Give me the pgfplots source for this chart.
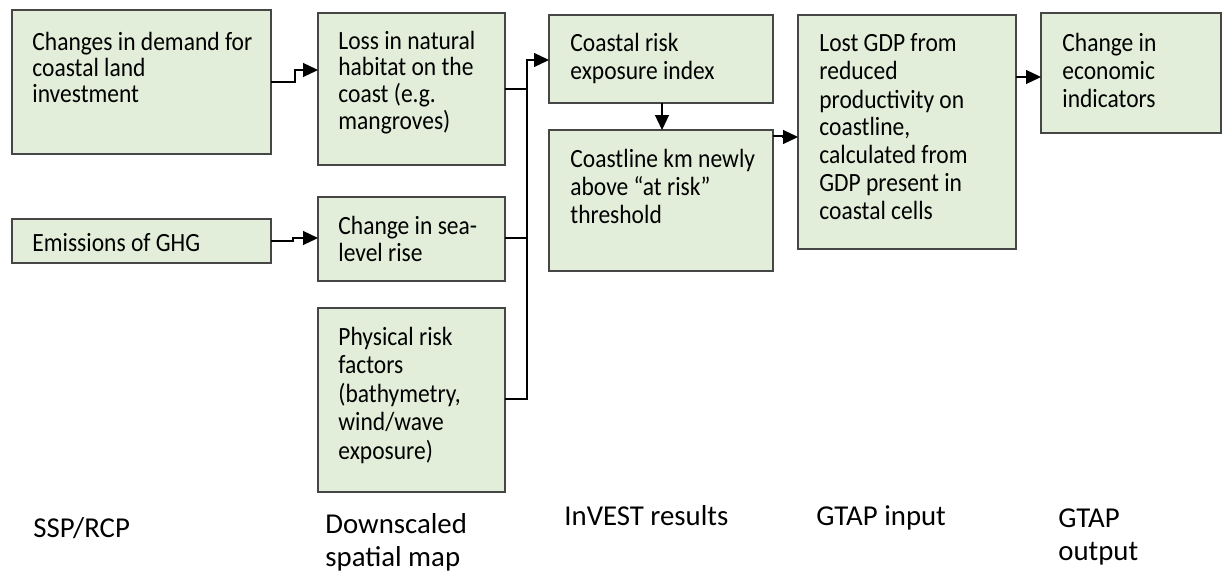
\documentclass[border=0pt]{standalone}
\usepackage{pgfplots}
\pgfplotsset{compat=1.18}
\usepackage{graphicx}
\usepackage{fontspec}
\setmainfont{Carlito}
\usetikzlibrary{arrows.meta}
\definecolor{boxfill}{RGB}{226,238,217}
\definecolor{boxline}{RGB}{70,70,70}
\newcommand{\bt}[2]{\scalebox{1}[1.12]{\fontsize{11.75}{#1}\selectfont\begin{tabular}{@{}l@{}}#2\end{tabular}}}
\begin{document}
\begin{tikzpicture}
\begin{axis}[
  scale only axis, width=611.5pt, height=286.5pt,
  xmin=0, xmax=1223, ymin=0, ymax=573, y dir=reverse,
  hide axis, clip=false,
]
\path (0,0) rectangle (1223,573);
\tikzset{
  bx/.style={fill=boxfill, draw=boxline, line width=0.75pt},
  tx/.style={anchor=north west, inner sep=0pt, align=left},
  lb/.style={anchor=north west, inner sep=0pt, align=left, font=\fontsize{14.4}{16.5}\selectfont},
  ar/.style={draw=black, line width=0.65pt, -{Triangle[length=7.5pt,width=7pt]}},
  ln/.style={draw=black, line width=0.65pt},
}
% boxes
\draw[bx] (12,10) rectangle (271,154);
\draw[bx] (318,13) rectangle (505,165);
\draw[bx] (12,219) rectangle (271,263);
\draw[bx] (318,197) rectangle (505,281);
\draw[bx] (318,308) rectangle (505,492);
\draw[bx] (549,15) rectangle (773,103);
\draw[bx] (549,130) rectangle (773,271);
\draw[bx] (798,15) rectangle (1016,249);
\draw[bx] (1041,13) rectangle (1221,133);
% connectors
\draw[ar] (271,82) -- (295,82) -- (295,70) -- (318,70);
\draw[ar] (271,241) -- (293,241) -- (293,238) -- (318,238);
\draw[ln] (505,89) -- (527,89);
\draw[ln] (505,238) -- (527,238);
\draw[ar] (505,399) -- (527,399) -- (527,60) -- (549,60);
\draw[ar] (662,103) -- (662,130);
\draw[ar] (773,136) -- (783,136) -- (783,137) -- (798,137);
\draw[ar] (1016,77) -- (1041,77);
% box texts
\node[tx] at (32,32) {\bt{11.6pt}{Changes in demand for\\coastal land\\investment}};
\node[tx] at (338,31) {\bt{11.6pt}{Loss in natural\\habitat on the\\coast (e.g.\\mangroves)}};
\node[tx] at (32,231) {\bt{12.5pt}{Emissions of GHG}};
\node[tx] at (338,214) {\bt{12.5pt}{Change in sea-\\level rise}};
\node[tx] at (338,325) {\bt{12.7pt}{Physical risk\\factors\\(bathymetry,\\wind/wave\\exposure)}};
\node[tx] at (570,32) {\bt{12.5pt}{Coastal risk\\exposure index}};
\node[tx] at (570,147) {\bt{12.5pt}{Coastline km newly\\above “at risk”\\threshold}};
\node[tx] at (819,32) {\bt{12.5pt}{Lost GDP from\\reduced\\productivity on\\coastline,\\calculated from\\GDP present in\\coastal cells}};
\node[tx] at (1062,31) {\bt{12.5pt}{Change in\\economic\\indicators}};
% column labels
\node[lb] at (33,517) {SSP/RCP};
\node[lb] at (325,513) {Downscaled\\spatial map};
\node[lb] at (564,505) {InVEST results};
\node[lb] at (816,505) {GTAP input};
\node[lb] at (1058,508) {GTAP\\output};
\end{axis}
\end{tikzpicture}
\end{document}
